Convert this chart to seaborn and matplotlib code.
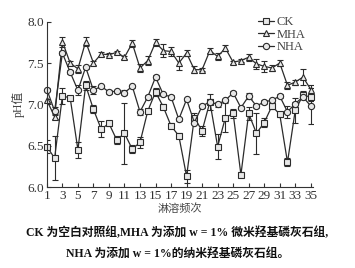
import numpy as np
import pandas as pd
import matplotlib
matplotlib.use('Agg')
import matplotlib.pyplot as plt
import seaborn as sns

times = list(range(1, 36))

ck = [6.49, 6.35, 7.10, 7.08, 6.45, 7.23, 6.94, 6.70, 6.77, 6.57,
      6.65, 6.46, 6.54, 6.92, 7.15, 6.97, 6.74, 6.62, 6.13, 6.84,
      6.68, 7.03, 6.49, 6.84, 6.89, 6.15, 6.89, 6.65, 6.78, 6.98,
      6.88, 6.30, 6.93, 7.11, 7.09]
ck_err = [0.08, 0.27, 0.10, 0.02, 0.10, 0.05, 0.05, 0.10, 0.03, 0.05,
          0.37, 0.05, 0.07, 0.03, 0.05, 0.03, 0.03, 0.03, 0.08, 0.05,
          0.06, 0.10, 0.15, 0.18, 0.05, 0.03, 0.08, 0.25, 0.05, 0.04,
          0.03, 0.05, 0.15, 0.05, 0.05]

mha = [7.05, 6.85, 7.76, 7.50, 7.43, 7.76, 7.50, 7.61, 7.60, 7.63,
       7.57, 7.74, 7.44, 7.53, 7.75, 7.65, 7.64, 7.50, 7.62, 7.42,
       7.42, 7.65, 7.58, 7.68, 7.51, 7.53, 7.57, 7.49, 7.46, 7.44,
       7.50, 7.23, 7.27, 7.33, 7.18]
mha_err = [0.02, 0.03, 0.06, 0.02, 0.05, 0.05, 0.02, 0.02, 0.02, 0.02,
           0.02, 0.04, 0.05, 0.05, 0.04, 0.08, 0.05, 0.08, 0.04, 0.04,
           0.02, 0.03, 0.04, 0.04, 0.02, 0.02, 0.04, 0.06, 0.07, 0.04,
           0.04, 0.04, 0.03, 0.10, 0.05]

nha = [7.18, 6.92, 7.62, 7.39, 7.17, 7.45, 7.17, 7.22, 7.15, 7.16,
       7.14, 7.22, 6.91, 7.09, 7.33, 7.12, 7.09, 6.82, 7.06, 6.78,
       6.98, 7.03, 7.00, 7.05, 7.14, 6.96, 7.10, 6.98, 7.03, 7.05,
       7.10, 6.91, 7.01, 7.09, 6.98]
nha_err = [0.02, 0.05, 0.02, 0.02, 0.06, 0.02, 0.05, 0.02, 0.02, 0.02,
           0.03, 0.02, 0.04, 0.02, 0.02, 0.02, 0.02, 0.02, 0.02, 0.02,
           0.02, 0.03, 0.03, 0.02, 0.02, 0.02, 0.04, 0.02, 0.02, 0.02,
           0.02, 0.07, 0.02, 0.02, 0.22]

groups = ['CK', 'MHA', 'NHA']

sns.set_style('ticks')
plt.rcParams['font.family'] = ['Liberation Serif', 'Noto Sans CJK SC', 'DejaVu Sans']
plt.rcParams['axes.unicode_minus'] = False

d = pd.DataFrame({
    'time': times * 3,
    'ph': ck + mha + nha,
    'group': ['CK'] * 35 + ['MHA'] * 35 + ['NHA'] * 35,
})

fig = plt.figure(figsize=(3.55, 2.68), dpi=100)
ax = fig.add_axes([0.132, 0.302, 0.75, 0.617])

line_c = '#2b2b2b'
sns.lineplot(data=d, x='time', y='ph', hue='group', style='group',
             markers={'CK': 's', 'MHA': '^', 'NHA': 'o'}, dashes=False,
             palette={g: line_c for g in groups}, linewidth=0.9,
             markersize=4.5, markerfacecolor='#e8e8e8', markeredgecolor=line_c,
             markeredgewidth=0.8, ax=ax, clip_on=False)

for y, e in [(ck, ck_err), (mha, mha_err), (nha, nha_err)]:
    ax.errorbar(times, y, yerr=e, fmt='none', ecolor=line_c,
                elinewidth=0.8, capsize=2, capthick=0.8, zorder=1)

ax.set_xlim(1, 35.3)
ax.set_ylim(6.0, 8.0)
ax.set_xticks(range(1, 36, 2))
ax.set_yticks([6.0, 6.5, 7.0, 7.5, 8.0])
ax.set_yticklabels(['6.0', '6.5', '7.0', '7.5', '8.0'])
ax.tick_params(axis='both', direction='in', labelsize=9.5, length=3, width=0.8,
               colors='#333333', pad=2)
sns.despine(ax=ax)
for s in ['left', 'bottom']:
    ax.spines[s].set_linewidth(0.8)
    ax.spines[s].set_color('#333333')
ax.set_xlabel('淋溶频次', fontsize=8, color='#444444', labelpad=1)
ax.set_ylabel('pH值', fontsize=8.5, color='#444444', labelpad=2)

leg = ax.legend(loc='upper right', bbox_to_anchor=(1.0, 1.08), frameon=False,
                fontsize=9, handlelength=1.3, handletextpad=0.2,
                labelspacing=0.05, borderpad=0.1)
for t in leg.get_texts():
    t.set_color('#444444')

cap_font = ['Liberation Serif', 'Noto Sans CJK SC']
fig.text(0.5, 0.12, 'CK 为空白对照组,MHA 为添加 w = 1% 微米羟基磷灰石组,',
         ha='center', fontsize=8.5, color='#111111', family=cap_font,
         fontweight='bold')
fig.text(0.5, 0.04, 'NHA 为添加 w = 1%的纳米羟基磷灰石组。',
         ha='center', fontsize=8.5, color='#111111', family=cap_font,
         fontweight='bold')

plt.savefig('out.png', dpi=100)
